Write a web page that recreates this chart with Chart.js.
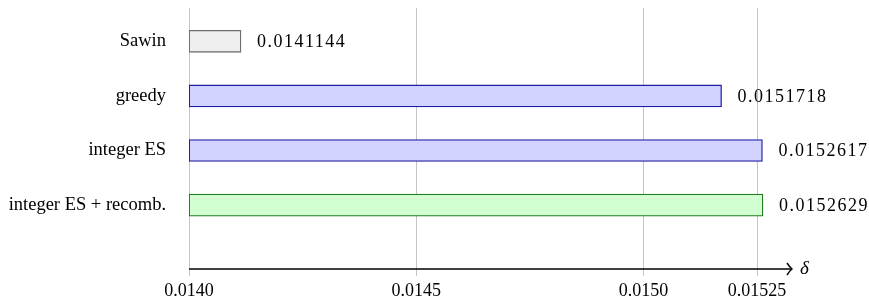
<!DOCTYPE html>
<html>
<head>
<meta charset="utf-8">
<script src="https://cdn.jsdelivr.net/npm/chart.js@4/dist/chart.umd.min.js"></script>
<style>
  html, body { margin: 0; padding: 0; background: #fff; }
  #wrap { width: 869px; height: 302px; }
</style>
</head>
<body>
<div id="wrap"><canvas id="chart" width="869" height="302"></canvas></div>
<script>
// data, top row first
const methods = ['Sawin', 'greedy', 'integer ES', 'integer ES + recomb.'];
const deltas = [0.0141144, 0.0151718, 0.0152617, 0.0152629];
const valueLabels = ['0.0141144', '0.0151718', '0.0152617', '0.0152629'];
const xTicks = [0.0140, 0.0145, 0.0150, 0.01525];
const xTickLabels = ['0.0140', '0.0145', '0.0150', '0.01525'];
const xStart = 0.0140;

const fills = ['#efefef', '#d2d2ff', '#d2d2ff', '#d2ffd2'];
const borders = ['#6e6e6e', '#1c1ca6', '#1c1ca6', '#1f7d1f'];

Chart.defaults.font.family = '"Liberation Serif", "Times New Roman", serif';
Chart.defaults.color = '#000';

// row index -> y position (top row highest)
const rowPos = (i) => methods.length - 1 - i;

const valueLabelPlugin = {
  id: 'valueLabels',
  afterDatasetsDraw(chart) {
    const ctx = chart.ctx;
    const meta = chart.getDatasetMeta(0);
    ctx.save();
    ctx.font = '18px "Liberation Serif", serif';
    ctx.letterSpacing = '1.5px';
    ctx.fillStyle = '#000';
    ctx.textAlign = 'left';
    ctx.textBaseline = 'middle';
    meta.data.forEach((bar, i) => {
      ctx.fillText(valueLabels[i], bar.x + 16, bar.y + 1);
    });
    ctx.restore();
  }
};

const axisArrowPlugin = {
  id: 'axisArrow',
  afterDraw(chart) {
    const ctx = chart.ctx;
    const area = chart.chartArea;
    const y = area.bottom;
    const tip = area.right + 4;
    ctx.save();
    ctx.strokeStyle = '#000';
    ctx.lineWidth = 1.4;
    ctx.beginPath();
    ctx.moveTo(area.left, y);
    ctx.lineTo(tip, y);
    ctx.stroke();
    ctx.beginPath();
    ctx.moveTo(tip - 5, y - 6);
    ctx.quadraticCurveTo(tip - 2, y - 1.5, tip, y);
    ctx.quadraticCurveTo(tip - 2, y + 1.5, tip - 5, y + 6);
    ctx.stroke();
    ctx.font = 'italic 19px "Liberation Serif", serif';
    ctx.fillStyle = '#000';
    ctx.textAlign = 'left';
    ctx.textBaseline = 'middle';
    ctx.fillText('\u03b4', tip + 8, y);
    ctx.restore();
  }
};

new Chart(document.getElementById('chart'), {
  type: 'bar',
  data: {
    datasets: [{
      data: deltas.map((d, i) => ({ y: rowPos(i), x: [xStart, d] })),
      backgroundColor: fills,
      borderColor: borders,
      borderWidth: 1.3,
      borderSkipped: false,
      barThickness: 22
    }]
  },
  options: {
    indexAxis: 'y',
    responsive: false,
    animation: false,
    events: [],
    layout: { padding: { top: 8, right: 81, left: 0, bottom: 0 } },
    plugins: {
      legend: { display: false },
      tooltip: { enabled: false }
    },
    scales: {
      x: {
        type: 'linear',
        min: xStart,
        max: 0.015318,
        afterFit: (scale) => { scale.height = 33; },
        afterBuildTicks: (scale) => { scale.ticks = xTicks.map(v => ({ value: v })); },
        ticks: {
          padding: 4,
          font: { size: 18 },
          maxRotation: 0,
          callback: (v) => {
            const k = xTicks.findIndex(t => Math.abs(t - v) < 1e-9);
            return k >= 0 ? xTickLabels[k] : '';
          }
        },
        grid: { color: '#c4c4c4', lineWidth: 1, tickLength: 7, drawTicks: true },
        border: { display: false }
      },
      y: {
        type: 'linear',
        offset: false,
        min: -1.17,
        max: 3.61,
        afterFit: (scale) => {
          scale.width = 189;
          scale.paddingTop = 0;
          scale.paddingBottom = 0;
        },
        afterBuildTicks: (scale) => { scale.ticks = methods.map((m, i) => ({ value: rowPos(i) })); },
        ticks: {
          padding: 23,
          font: { size: 18.5 },
          callback: (v) => methods[methods.length - 1 - v]
        },
        grid: { display: false, drawTicks: false, offset: false },
        border: { display: false }
      }
    }
  },
  plugins: [valueLabelPlugin, axisArrowPlugin]
});
</script>
</body>
</html>
